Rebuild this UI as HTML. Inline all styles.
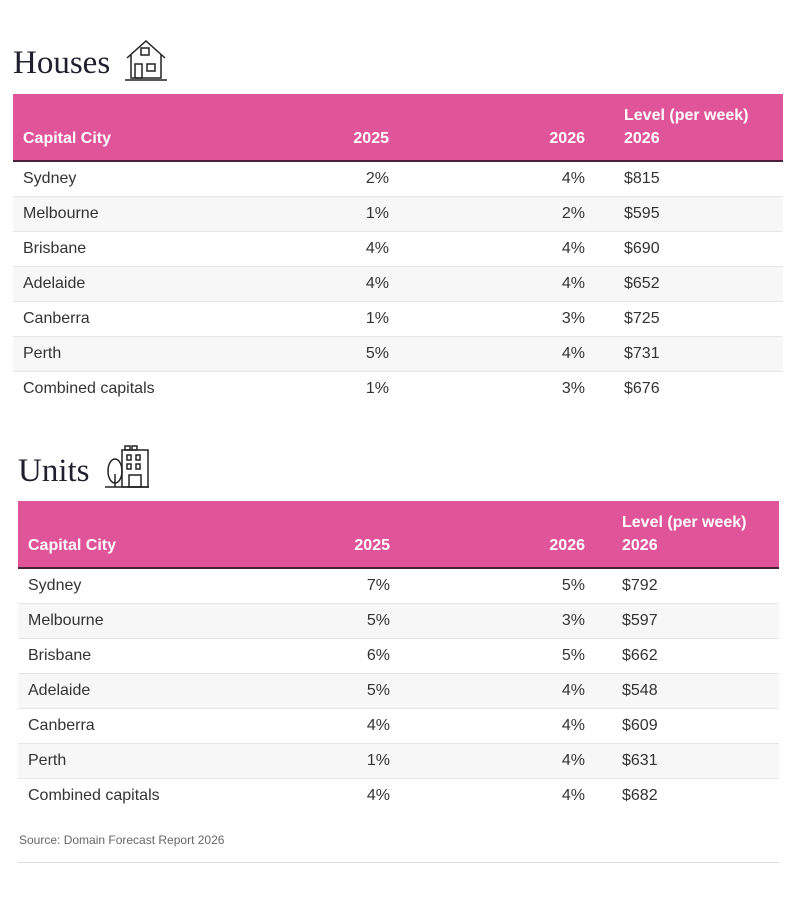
<!DOCTYPE html>
<html><head><style>
body{margin:0;background:#fff;font-family:"Liberation Sans",sans-serif;color:#333;width:800px;height:900px;position:relative;overflow:hidden}
.title{position:absolute;font-family:"Liberation Serif",serif;font-size:33px;color:#1f1f2e}
table{position:absolute;border-collapse:collapse;font-size:16px;table-layout:fixed}
th{background:#e05599;color:#fff;font-weight:bold;height:67px;box-sizing:border-box;vertical-align:bottom;padding:0 10px 10px 10px;text-align:left;line-height:23px;border-bottom:2px solid #4a2038}
td{height:34px;padding:0 10px;border-bottom:1px solid #e6e6e6;color:#333}
tr:nth-child(odd) td{background:#f7f7f7}
.r{text-align:right}
.l{padding-left:29px}
</style></head><body>
<div class="title" style="left:13px;top:45px">Houses</div>
<svg style="position:absolute;left:124px;top:38px" width="44" height="45" viewBox="0 0 44 45" fill="none" stroke="#222" stroke-width="1.5">
<path d="M3 20 L22 3 L41 20 M7 17 V40 H37 V17"/><rect x="17" y="10" width="8" height="7"/><rect x="11" y="26" width="7" height="14"/><rect x="23" y="26" width="8" height="7"/><path d="M1 42 H43"/></svg>
<table style="left:13px;top:94px;width:770px">
<colgroup><col style="width:250px"><col style="width:136px"><col style="width:196px"><col></colgroup>
<tr><th>Capital City</th><th class="r">2025</th><th class="r">2026</th><th class="l">Level (per week)<br>2026</th></tr>
<tr><td>Sydney</td><td class="r">2%</td><td class="r">4%</td><td class="l">$815</td></tr>
<tr><td>Melbourne</td><td class="r">1%</td><td class="r">2%</td><td class="l">$595</td></tr>
<tr><td>Brisbane</td><td class="r">4%</td><td class="r">4%</td><td class="l">$690</td></tr>
<tr><td>Adelaide</td><td class="r">4%</td><td class="r">4%</td><td class="l">$652</td></tr>
<tr><td>Canberra</td><td class="r">1%</td><td class="r">3%</td><td class="l">$725</td></tr>
<tr><td>Perth</td><td class="r">5%</td><td class="r">4%</td><td class="l">$731</td></tr>
<tr><td style="border:none">Combined capitals</td><td class="r" style="border:none">1%</td><td class="r" style="border:none">3%</td><td class="l" style="border:none">$676</td></tr>
</table>
<div class="title" style="left:18px;top:453px">Units</div>
<svg style="position:absolute;left:104px;top:444px" width="46" height="45" viewBox="0 0 46 45" fill="none" stroke="#222" stroke-width="1.5">
<rect x="18" y="6" width="26" height="37"/><rect x="21" y="2" width="5" height="4"/><rect x="28" y="2" width="5" height="4"/><rect x="23" y="11" width="4" height="5"/><rect x="32" y="11" width="4" height="5"/><rect x="23" y="20" width="4" height="5"/><rect x="32" y="20" width="4" height="5"/><rect x="25" y="31" width="12" height="12"/><ellipse cx="11" cy="27" rx="7" ry="12"/><path d="M11 30 V43 M1 43 H45"/></svg>
<table style="left:18px;top:501px;width:761px">
<colgroup><col style="width:250px"><col style="width:132px"><col style="width:195px"><col></colgroup>
<tr><th>Capital City</th><th class="r">2025</th><th class="r">2026</th><th class="l" style="padding-left:27px">Level (per week)<br>2026</th></tr>
<tr><td>Sydney</td><td class="r">7%</td><td class="r">5%</td><td class="l" style="padding-left:27px">$792</td></tr>
<tr><td>Melbourne</td><td class="r">5%</td><td class="r">3%</td><td class="l" style="padding-left:27px">$597</td></tr>
<tr><td>Brisbane</td><td class="r">6%</td><td class="r">5%</td><td class="l" style="padding-left:27px">$662</td></tr>
<tr><td>Adelaide</td><td class="r">5%</td><td class="r">4%</td><td class="l" style="padding-left:27px">$548</td></tr>
<tr><td>Canberra</td><td class="r">4%</td><td class="r">4%</td><td class="l" style="padding-left:27px">$609</td></tr>
<tr><td>Perth</td><td class="r">1%</td><td class="r">4%</td><td class="l" style="padding-left:27px">$631</td></tr>
<tr><td style="border:none">Combined capitals</td><td class="r" style="border:none">4%</td><td class="r" style="border:none">4%</td><td class="l" style="border:none;padding-left:27px">$682</td></tr>
</table>
<div style="position:absolute;left:19px;top:833px;font-size:12px;color:#666">Source: Domain Forecast Report 2026</div>
<div style="position:absolute;left:18px;top:862px;width:761px;height:1px;background:#ddd"></div>
</body></html>
